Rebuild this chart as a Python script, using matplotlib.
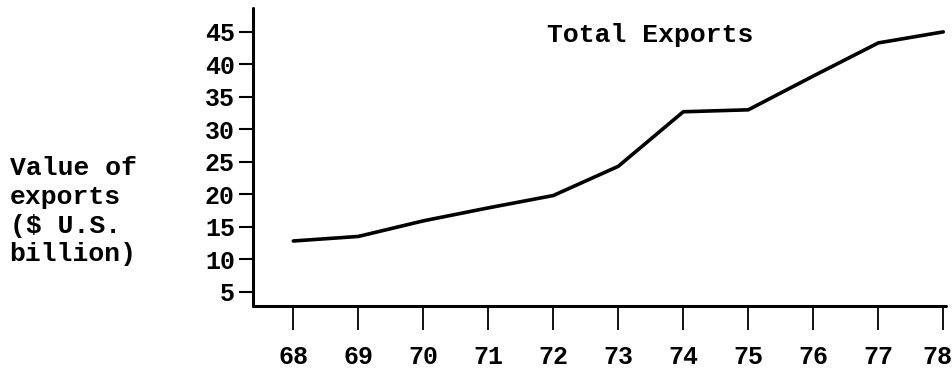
import matplotlib
matplotlib.use('Agg')
import matplotlib.pyplot as plt
from matplotlib.transforms import ScaledTranslation

# Data
years = [68, 69, 70, 71, 72, 73, 74, 75, 76, 77, 78]
exports = [12.8, 13.5, 15.9, 17.9, 19.8, 24.3, 32.7, 33.0, 38.2, 43.3, 45.0]
y_ticks = [5, 10, 15, 20, 25, 30, 35, 40, 45]

FONT = 'Liberation Mono'

fig = plt.figure(figsize=(9.53, 3.74), dpi=100)
ax = fig.add_axes([0.2655, 0.182, 0.727, 0.797])

ax.plot(years, exports, color='black', linewidth=2.6, solid_capstyle='round',
        solid_joinstyle='round')

ax.set_xlim(67.38, 78.04)
ax.set_ylim(2.8, 48.7)
ax.set_xticks(years)
ax.set_xticklabels([str(y) for y in years], fontfamily=FONT, fontsize=18,
                   fontweight='bold')
ax.set_yticks(y_ticks)
ax.set_yticklabels([str(v) for v in y_ticks], fontfamily=FONT, fontsize=18,
                   fontweight='bold')

for side in ['top', 'right']:
    ax.spines[side].set_visible(False)
for side in ['left', 'bottom']:
    ax.spines[side].set_linewidth(2.2)
    ax.spines[side].set_capstyle('round')

ax.tick_params(axis='x', direction='out', length=17, width=1.3, pad=11)
ax.tick_params(axis='y', direction='out', length=10, width=1.5, pad=3)

# last year label sits a touch left of its tick so it stays on the page
last = ax.get_xticklabels()[-1]
last.set_transform(last.get_transform() + ScaledTranslation(-0.06, 0, fig.dpi_scale_trans))

fig.text(0.682, 0.906, 'Total Exports', fontfamily=FONT, fontsize=19,
         fontweight='bold', ha='center', va='center')
fig.text(0.01, 0.435, 'Value of\nexports\n($ U.S.\nbillion)', fontfamily=FONT,
         fontsize=19, fontweight='bold', ha='left', va='center', linespacing=1.25)

fig.savefig('out.png', dpi=100)
